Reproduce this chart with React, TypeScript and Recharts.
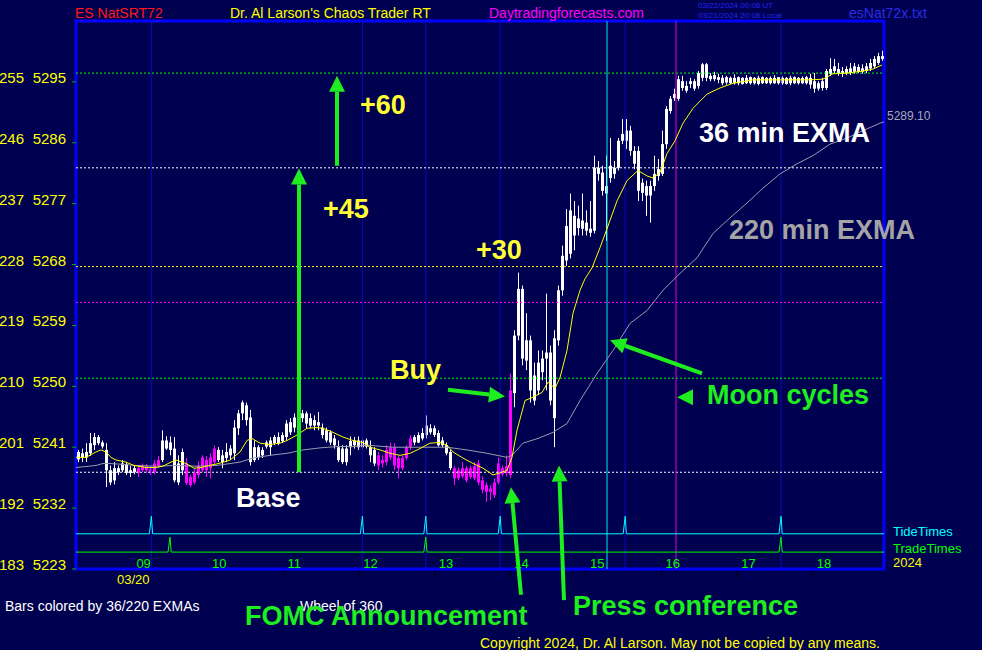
import React from 'react'
import { ComposedChart, Bar, Line, XAxis, YAxis, ReferenceLine, ReferenceArea } from 'recharts'

const FONT = "'Liberation Sans', Arial, sans-serif"
const BG = '#000050'
const GREEN = '#1EEE1E'

// one slot per bar, [open, high, low, close]
const bars0 = [
  [5239.2, 5240.6, 5238.8, 5240.3], [5239.5, 5240.8, 5238.8, 5240.1], [5239.5, 5241.6, 5238.8, 5240.3],
  [5240.1, 5243.1, 5239.7, 5241.6], [5241.3, 5243.1, 5240.6, 5242.5], [5241.6, 5242.8, 5241.3, 5242.5],
  [5241.1, 5242.0, 5240.8, 5241.7], [5240.6, 5241.6, 5235.1, 5237.6], [5237.6, 5238.3, 5235.4, 5235.8],
  [5236.1, 5238.8, 5235.5, 5237.9], [5237.3, 5238.3, 5236.9, 5237.9], [5237.6, 5239.1, 5237.3, 5238.6],
  [5238.5, 5238.8, 5236.9, 5237.2], [5237.2, 5238.2, 5236.6, 5237.6], [5237.3, 5238.3, 5237.0, 5237.9],
  [5237.9, 5238.3, 5236.6, 5237.2], [5238.3, 5238.6, 5237.3, 5237.6], [5237.6, 5238.5, 5237.2, 5238.2],
  [5237.75, 5238.2, 5236.9, 5237.2], [5237.3, 5239.1, 5237.0, 5238.6], [5238.2, 5239.7, 5237.9, 5239.1],
  [5239.1, 5243.5, 5238.8, 5242.0], [5242.0, 5242.6, 5240.6, 5240.8], [5240.6, 5242.6, 5239.8, 5241.7],
  [5240.8, 5242.5, 5235.8, 5236.1], [5235.8, 5239.8, 5235.4, 5238.6], [5237.6, 5240.8, 5236.9, 5240.3],
  [5238.6, 5239.4, 5235.4, 5235.7], [5236.6, 5236.9, 5235.1, 5235.4], [5235.8, 5237.9, 5235.5, 5237.2],
  [5236.9, 5238.9, 5236.4, 5238.3], [5237.6, 5239.8, 5237.3, 5239.5], [5239.1, 5239.7, 5236.6, 5237.6],
  [5237.9, 5240.1, 5236.4, 5239.5], [5238.8, 5241.3, 5238.5, 5240.8], [5239.1, 5241.0, 5238.8, 5240.6],
  [5239.8, 5240.6, 5237.9, 5238.8], [5239.4, 5241.6, 5238.8, 5240.3],
]
const bars1 = [
  [5239.8, 5241.3, 5239.1, 5240.8], [5240.1, 5245.0, 5239.1, 5243.9], [5243.8, 5246.5, 5242.8, 5246.0],
  [5246.0, 5247.9, 5245.0, 5247.6], [5247.2, 5247.6, 5244.2, 5245.0], [5245.4, 5246.5, 5238.3, 5238.8],
  [5239.1, 5242.0, 5238.8, 5241.0], [5241.0, 5241.3, 5239.1, 5239.5], [5239.8, 5241.0, 5239.4, 5240.6],
  [5241.1, 5242.0, 5240.8, 5241.7], [5241.0, 5242.5, 5239.8, 5242.0], [5241.6, 5242.8, 5241.3, 5242.5],
  [5242.5, 5243.2, 5241.3, 5241.6], [5241.9, 5243.2, 5241.6, 5242.8], [5242.5, 5245.0, 5242.0, 5244.5],
  [5243.2, 5245.3, 5242.8, 5244.7], [5243.9, 5246.0, 5243.2, 5245.4], [5245.0, 5246.9, 5244.2, 5246.2],
  [5246.0, 5246.5, 5244.7, 5245.3], [5244.5, 5246.3, 5243.8, 5246.0], [5245.3, 5246.0, 5243.8, 5244.2],
  [5244.2, 5245.7, 5243.5, 5245.0], [5244.7, 5246.2, 5243.5, 5244.2], [5243.9, 5244.5, 5242.3, 5242.8],
  [5243.5, 5243.9, 5241.7, 5242.0], [5241.7, 5243.5, 5241.3, 5243.2], [5242.3, 5242.8, 5240.8, 5241.3],
  [5241.0, 5242.0, 5238.8, 5239.1], [5238.8, 5241.3, 5238.5, 5240.8], [5240.8, 5241.3, 5238.3, 5238.8],
  [5241.0, 5242.6, 5239.8, 5241.9], [5241.3, 5242.5, 5240.8, 5242.0], [5242.0, 5242.6, 5240.6, 5241.0],
  [5241.0, 5242.5, 5240.7, 5242.0], [5242.0, 5242.3, 5240.8, 5241.1], [5241.0, 5242.0, 5238.8, 5239.8],
  [5240.6, 5241.0, 5238.2, 5238.6],
]
const bars2 = [
  [5239.8, 5240.3, 5237.6, 5238.3], [5239.1, 5239.8, 5238.0, 5238.6], [5240.6, 5241.3, 5238.3, 5238.8],
  [5241.0, 5241.7, 5239.1, 5239.5], [5241.0, 5241.6, 5237.6, 5238.3], [5239.4, 5239.8, 5236.4, 5237.9],
  [5237.9, 5239.8, 5237.6, 5239.4], [5241.0, 5241.3, 5239.1, 5239.4], [5242.3, 5242.8, 5240.6, 5241.0],
  [5241.7, 5242.8, 5241.3, 5242.5], [5241.7, 5243.2, 5241.6, 5242.8], [5242.3, 5243.8, 5242.0, 5243.1],
  [5242.8, 5245.7, 5242.3, 5244.2], [5243.8, 5244.4, 5242.9, 5243.2], [5242.8, 5244.2, 5242.5, 5243.8],
  [5243.1, 5243.5, 5241.1, 5241.3], [5242.0, 5242.5, 5241.0, 5241.3], [5241.3, 5241.7, 5239.8, 5240.1],
  [5240.3, 5240.6, 5237.6, 5237.9], [5237.9, 5238.3, 5235.4, 5236.4], [5237.6, 5238.0, 5236.1, 5236.4],
  [5236.7, 5238.8, 5236.4, 5237.9], [5237.9, 5238.2, 5235.8, 5236.1], [5236.6, 5238.3, 5236.3, 5237.9],
  [5238.2, 5238.8, 5236.1, 5236.4], [5238.6, 5239.1, 5235.4, 5235.8], [5236.1, 5236.7, 5234.2, 5234.7],
  [5235.4, 5235.8, 5232.9, 5234.4], [5234.4, 5235.4, 5233.2, 5234.9], [5235.8, 5236.4, 5233.5, 5233.9],
  [5235.8, 5239.5, 5235.5, 5238.6], [5237.0, 5238.3, 5236.7, 5237.9], [5237.2, 5239.8, 5236.7, 5238.2],
  [5236.9, 5251.9, 5236.4, 5249.4],
]
const bars3 = [
  [5249.0, 5258.3, 5246.9, 5257.5], [5257.5, 5266.8, 5256.8, 5264.4], [5264.4, 5264.9, 5253.1, 5254.1],
  [5253.8, 5260.8, 5252.4, 5256.8], [5256.8, 5257.5, 5247.6, 5249.4], [5247.9, 5253.5, 5247.2, 5251.6],
  [5249.4, 5255.3, 5248.7, 5253.5], [5254.1, 5255.3, 5250.9, 5252.1], [5254.1, 5263.7, 5249.4, 5255.0],
  [5255.0, 5256.0, 5247.2, 5247.9], [5245.3, 5258.3, 5241.0, 5257.1], [5256.8, 5264.9, 5256.0, 5264.2],
  [5264.2, 5270.8, 5263.4, 5269.3], [5268.6, 5276.2, 5267.8, 5273.7], [5269.6, 5278.5, 5268.9, 5276.0],
  [5275.2, 5277.4, 5270.1, 5272.3], [5273.4, 5276.7, 5272.3, 5274.8], [5274.5, 5278.5, 5272.3, 5273.3],
  [5273.0, 5276.0, 5272.3, 5274.2], [5273.3, 5277.4, 5272.1, 5272.7], [5273.0, 5284.1, 5272.6, 5282.3],
  [5282.3, 5283.3, 5280.4, 5281.4], [5281.6, 5282.6, 5278.2, 5278.9], [5278.5, 5284.1, 5271.5, 5279.6],
  [5280.8, 5286.7, 5280.1, 5282.6], [5282.3, 5283.3, 5280.7, 5281.4], [5282.3, 5286.7, 5281.9, 5286.3],
  [5286.3, 5289.5, 5285.8, 5287.3], [5287.8, 5289.5, 5285.1, 5286.3], [5287.8, 5288.5, 5284.1, 5284.8],
  [5284.8, 5285.5, 5282.1, 5282.9], [5284.8, 5285.5, 5277.4, 5278.9], [5278.6, 5280.7, 5277.4, 5280.1],
  [5279.6, 5280.4, 5275.2, 5278.2], [5278.2, 5280.4, 5274.2, 5279.6], [5279.6, 5284.1, 5278.9, 5281.4],
  [5281.1, 5283.6, 5280.4, 5282.1], [5281.4, 5287.8, 5281.1, 5285.8], [5285.8, 5291.4, 5285.1, 5291.0],
  [5290.7, 5292.9, 5290.3, 5292.5], [5292.6, 5294.0, 5292.2, 5293.2], [5292.5, 5295.9, 5292.2, 5295.4],
]
const bars4 = [
  [5295.1, 5295.9, 5293.7, 5294.1], [5294.4, 5295.1, 5293.4, 5293.7], [5294.7, 5295.6, 5294.1, 5295.1],
  [5295.1, 5295.4, 5293.7, 5294.0], [5294.4, 5296.6, 5294.0, 5296.3], [5295.6, 5297.8, 5295.1, 5297.6],
  [5297.6, 5297.8, 5295.1, 5295.6], [5295.9, 5296.3, 5295.1, 5295.4], [5295.4, 5296.5, 5295.1, 5296.0],
  [5295.7, 5296.2, 5294.8, 5295.3],
  [5294.8, 5296.0, 5294.5, 5295.6], [5294.9, 5295.9, 5294.6, 5295.7], [5294.8, 5295.8, 5294.7, 5295.6],
  [5294.8, 5296.1, 5294.6, 5295.6], [5294.8, 5295.8, 5294.5, 5295.7], [5294.7, 5295.7, 5294.6, 5295.6],
  [5294.8, 5296.0, 5294.7, 5295.6], [5294.8, 5295.8, 5294.6, 5295.7], [5294.8, 5295.7, 5294.6, 5295.6],
  [5294.7, 5295.9, 5294.5, 5295.6], [5294.8, 5295.8, 5294.7, 5295.7], [5294.8, 5295.7, 5294.7, 5295.6],
  [5294.8, 5295.8, 5294.6, 5295.6], [5294.8, 5296.0, 5294.7, 5295.6], [5294.8, 5295.7, 5294.6, 5295.7],
  [5294.8, 5295.8, 5294.6, 5295.6], [5294.7, 5295.7, 5294.6, 5295.6], [5294.8, 5295.9, 5294.5, 5295.6],
  [5294.8, 5295.8, 5294.7, 5295.7], [5294.8, 5295.7, 5294.6, 5295.6], [5294.8, 5295.8, 5294.7, 5295.6],
  [5294.8, 5295.9, 5294.6, 5295.7], [5294.6, 5296.2, 5294.0, 5295.6],
  [5294.0, 5296.3, 5293.4, 5295.1], [5294.8, 5295.1, 5293.7, 5294.0], [5294.1, 5295.6, 5293.7, 5295.1],
  [5294.1, 5296.9, 5293.8, 5296.6], [5296.2, 5298.5, 5295.9, 5296.9], [5296.6, 5298.4, 5296.2, 5297.3],
  [5296.9, 5297.8, 5295.9, 5296.2], [5296.2, 5297.2, 5295.7, 5296.6], [5296.3, 5297.3, 5296.0, 5296.9],
  [5296.3, 5297.8, 5296.0, 5297.0], [5296.5, 5297.8, 5296.2, 5297.3], [5297.2, 5297.6, 5296.3, 5296.5],
  [5296.5, 5297.6, 5296.2, 5297.0], [5296.6, 5297.8, 5296.3, 5297.3], [5297.0, 5298.4, 5296.6, 5297.8],
  [5297.3, 5298.8, 5297.0, 5298.4], [5297.8, 5299.3, 5297.5, 5298.8], [5298.4, 5299.6, 5298.1, 5298.8],
]

// slots where price was under both EXMAs
const pinkRanges = [[15, 20], [27, 34], [75, 83], [94, 108]]

// [slot, price]
const ema36 = [
  [-0.5, 5239.5], [2, 5239.5], [4.5, 5240.3], [5.75, 5240.6], [7, 5240.3], [8.25, 5239.5], [9.5, 5239.1],
  [12, 5238.8], [14, 5238.3], [17, 5238.0], [19.5, 5238.0], [21.25, 5238.2], [23.25, 5238.8], [24.5, 5239.1],
  [27, 5238.6], [29, 5237.9], [30.75, 5238.0], [32.75, 5238.3], [35.25, 5238.6], [38, 5239.1], [40.5, 5240.3],
  [42.25, 5242.0], [43.5, 5242.3], [45.5, 5241.6], [48, 5241.4], [50.5, 5241.6], [52.25, 5242.0], [54.75, 5242.8],
  [57.25, 5243.8], [59.75, 5243.9], [61.25, 5243.8], [63.75, 5243.2], [66.25, 5242.5], [68.75, 5242.0],
  [71.25, 5241.7], [73, 5241.0], [75.5, 5240.6], [78, 5240.1], [80.5, 5239.8], [83, 5240.1], [85.5, 5240.8],
  [88, 5241.6], [90.5, 5241.7], [92.25, 5241.3], [93.75, 5240.3], [96.25, 5239.4], [98.75, 5238.6],
  [101.25, 5237.9], [103.75, 5236.9], [105.5, 5237.2], [107.25, 5237.6], [108.5, 5239.5], [109.75, 5243.5],
  [111.75, 5247.9], [113.75, 5248.4], [116, 5249.1], [117.5, 5250.6], [119.25, 5249.7], [120.5, 5251.3],
  [122.25, 5255.3], [123.75, 5260.8], [125.5, 5264.2], [126.75, 5265.9], [128.5, 5267.5], [130.5, 5270.5],
  [132.25, 5273.3], [134.75, 5277.4], [137.25, 5280.4], [140, 5281.9], [142.25, 5281.1], [143.75, 5280.8],
  [145.5, 5281.6], [147.25, 5284.4], [149.25, 5286.3], [151.25, 5288.9], [153.75, 5291.1], [157.25, 5293.2],
  [160.5, 5294.1], [163.75, 5294.8], [168.75, 5295.3], [175.5, 5295.3], [183, 5295.3], [186.25, 5295.4],
  [188.75, 5296.2], [192.25, 5296.3], [196.25, 5296.6], [198.75, 5296.9], [201, 5297.5],
]
const ema220 = [
  [-0.5, 5238.0], [2.75, 5238.2], [4.5, 5238.3], [6.25, 5238.6], [7.75, 5238.6], [10.25, 5238.5], [14.5, 5238.3],
  [19.5, 5238.2], [24.5, 5238.3], [29.5, 5238.2], [34.5, 5238.3], [37, 5238.5], [40.5, 5238.8], [43.75, 5239.4],
  [48, 5239.8], [52.25, 5240.1], [56.25, 5240.6], [60.5, 5240.9], [64.75, 5241.1], [68.75, 5241.1],
  [72.25, 5241.3], [78.75, 5241.0], [87.25, 5241.0], [92.25, 5241.0], [97.25, 5240.6], [102.25, 5240.1],
  [107.25, 5239.5], [108.5, 5239.8], [111.25, 5241.6], [115, 5242.3], [118.75, 5243.2], [122.25, 5244.5],
  [125.5, 5247.9], [129.75, 5251.9], [133.75, 5255.3], [138, 5259.3], [142.25, 5261.2], [146.25, 5264.2],
  [150.5, 5266.7], [154.75, 5269.0], [158.75, 5272.6], [163, 5274.9], [167.25, 5277.1], [171.25, 5279.3],
  [175.5, 5281.4], [179.75, 5282.9], [183.75, 5284.1], [188, 5285.8], [192.25, 5286.7], [196.25, 5287.8],
  [200.5, 5288.9], [201.5, 5289.1],
]

const tideTimes = [18.35, 71.1, 86.95, 105.55, 136.8, 175.75]
const tradeTimes = [23, 86.95, 175.75]
const tideLevels = [5228.2, 5230.8] // base, peak
const tradeLevels = [5225.5, 5227.7]

const moonTimes = [132.25, 149.5]
const levelPrices = [5296.3, 5282.3, 5267.7, 5262.4, 5251.2, 5237.3]
const LEVEL_COLORS = ['#00FF00', '#FFFFFF', '#FFFF00', '#FF00FF', '#00FF00', '#FFFFFF']

const priceTicks = [5223, 5232, 5241, 5250, 5259, 5268, 5277, 5286, 5295]
const dayStarts = [13.6, 32.5, 51.4, 70.3, 89.2, 108.1, 127, 145.9, 164.8, 183.7]
const dayLabels = ['09', '10', '11', '12', '13', '14', '15', '16', '17', '18']

// [fromSlot, fromPrice, toSlot, toPrice]
const arrows = [
  [55.25, 5237.3, 55.25, 5282.2],
  [64.75, 5282.6, 64.75, 5295.9],
  [92.5, 5249.5, 106.75, 5248.5],
  [110.75, 5219.2, 108.25, 5235.1],
  [121.5, 5218.4, 120.25, 5238.3],
  [156, 5251.9, 133, 5256.8],
  [153.75, 5248.4, 149.75, 5248.4],
]

const X_DOMAIN = [-0.5, 201.5]
const Y_DOMAIN = [5223, 5304]

function spikes(times: number[], [base, peak]: number[]) {
  const pts = [{ x: X_DOMAIN[0], v: base }]
  times.forEach(t => {
    pts.push({ x: t - 0.5, v: base }, { x: t, v: peak }, { x: t + 0.3, v: base })
  })
  pts.push({ x: X_DOMAIN[1], v: base })
  return pts
}

// wick spans the bar's [low, high]; body placed inside it by proportion
function candleShape(props: any) {
  const { x, y, width, height, payload } = props
  if (!payload || !isFinite(y) || !isFinite(height)) return <g />
  const { o, h, l, c, pink } = payload
  const col = pink ? '#FF00FF' : '#FFFFFF'
  const top = Math.min(y, y + height)
  const hh = Math.abs(height)
  const k = hh / (h - l)
  const bTop = top + (h - Math.max(o, c)) * k
  const bBot = top + (h - Math.min(o, c)) * k
  const cx = Math.round(x + width / 2)
  return (
    <g>
      <line x1={cx + 0.5} x2={cx + 0.5} y1={top} y2={top + hh} stroke={col} strokeWidth={1} />
      <rect x={cx - 1} y={bTop} width={3} height={Math.max(1, bBot - bTop)} fill={col} />
    </g>
  )
}

function PriceTick(props: any) {
  const { x, y, payload } = props
  const v = payload.value
  return (
    <g fontFamily={FONT} fontSize={15} fill="#FFFF00">
      <text x={x - 42} y={y + 1} textAnchor="end">{v % 360}</text>
      <text x={x} y={y + 1} textAnchor="end">{v}</text>
    </g>
  )
}

function DayTick(props: any) {
  const { x, y, payload } = props
  const i = dayStarts.indexOf(payload.value)
  return (
    <g>
      <line x1={x} x2={x} y1={y + 2} y2={y + 9} stroke="#000" />
      <text x={x + 4} y={y - 6} fill="#00FF00" fontSize={13} fontFamily={FONT} dominantBaseline="central">
        {dayLabels[i]}
      </text>
    </g>
  )
}

function arrowShape(props: any) {
  const { x1, y1, x2, y2 } = props
  const dx = x2 - x1, dy = y2 - y1
  const len = Math.hypot(dx, dy) || 1
  const ux = dx / len, uy = dy / len
  const head = 16, half = 8
  const bx = x2 - ux * head, by = y2 - uy * head
  return (
    <g>
      {len > head && <line x1={x1} y1={y1} x2={bx} y2={by} stroke={GREEN} strokeWidth={4} />}
      <polygon
        points={`${x2},${y2} ${bx - uy * half},${by + ux * half} ${bx + uy * half},${by - ux * half}`}
        fill={GREEN}
      />
    </g>
  )
}

export default function App() {
  const candles = [...bars0, ...bars1, ...bars2, ...bars3, ...bars4].map((b, i) => ({
    x: i, o: b[0], h: b[1], l: b[2], c: b[3],
    pink: pinkRanges.some(([a, z]) => i >= a && i <= z),
  }))
  const ema36Data = ema36.map(([x, v]) => ({ x, v }))
  const ema220Data = ema220.map(([x, v]) => ({ x, v }))
  const tideData = spikes(tideTimes, tideLevels)
  const tradeData = spikes(tradeTimes, tradeLevels)

  const txt = { fontFamily: FONT }
  const big = { fontFamily: FONT, fontSize: 27, fontWeight: 700 }

  return (
    <div style={{ position: 'absolute', left: 0, top: 0, width: 982, height: 650, background: BG, overflow: 'hidden' }}>
      <ComposedChart width={982} height={650} data={candles} margin={{ top: 21, right: 98, bottom: 51, left: 0 }}>
        <XAxis
          xAxisId="main" dataKey="x" type="number" domain={X_DOMAIN} allowDataOverflow
          ticks={dayStarts} interval={0} tick={DayTick} tickLine={false} axisLine={false}
          tickSize={0} tickMargin={0} height={30}
        />
        <YAxis
          domain={Y_DOMAIN} allowDataOverflow ticks={priceTicks} interval={0} width={76}
          tick={PriceTick} tickLine={{ stroke: '#00B000' }} tickSize={4} tickMargin={6} axisLine={false}
        />

        {tideTimes.map(t => (
          <ReferenceLine key={'tv' + t} xAxisId="main" x={t} stroke="#0A0AC0" strokeWidth={1} />
        ))}
        {levelPrices.map((p, i) => (
          <ReferenceLine key={'lv' + p} xAxisId="main" y={p} stroke={LEVEL_COLORS[i]} strokeDasharray="2 2" />
        ))}
        <ReferenceLine xAxisId="main" x={moonTimes[0]} stroke="#00E8E8" strokeWidth={1} />
        <ReferenceLine xAxisId="main" x={moonTimes[1]} stroke="#E000E0" strokeWidth={1} />

        <Bar
          xAxisId="main" dataKey={(d: any) => [d.l, d.h]} barSize={3}
          shape={candleShape} isAnimationActive={false}
        />

        <Line xAxisId="main" data={ema220Data} dataKey="v" stroke="#9A9AAE" strokeWidth={1} dot={false} isAnimationActive={false} />
        <Line xAxisId="main" data={ema36Data} dataKey="v" stroke="#FFFF00" strokeWidth={1} dot={false} isAnimationActive={false} />
        <Line xAxisId="main" data={tideData} dataKey="v" stroke="#00FFFF" strokeWidth={1} dot={false} isAnimationActive={false} />
        <Line xAxisId="main" data={tradeData} dataKey="v" stroke="#00FF00" strokeWidth={1} dot={false} isAnimationActive={false} />

        <ReferenceArea
          xAxisId="main" x1={X_DOMAIN[0]} x2={X_DOMAIN[1]} y1={Y_DOMAIN[0]} y2={Y_DOMAIN[1]}
          fill="none" fillOpacity={0} stroke="#0000FF" strokeWidth={3} ifOverflow="visible"
        />
        {arrows.map((a, i) => (
          <ReferenceLine
            key={'ar' + i} xAxisId="main" ifOverflow="visible"
            segment={[{ x: a[0], y: a[1] }, { x: a[2], y: a[3] }]}
            shape={arrowShape}
          />
        ))}
      </ComposedChart>

      <svg width={982} height={650} style={{ position: 'absolute', left: 0, top: 0, pointerEvents: 'none' }}>
        <g style={txt} fontSize={14} dominantBaseline="central">
          <text x={75} y={13} fill="#FF1818">ES NatSRT72</text>
          <text x={230} y={13} fill="#FFFF00">Dr. Al Larson's Chaos Trader RT</text>
          <text x={489} y={13} fill="#FF00FF">Daytradingforecasts.com</text>
          <text x={698} y={5.5} fill="#2424F0" fontSize={8}>03/22/2024 00:08 UT</text>
          <text x={698} y={15} fill="#2424F0" fontSize={8}>03/21/2024 20:08 Local</text>
          <text x={849} y={12.5} fill="#2C2CE8">esNat72x.txt</text>

          <text x={887} y={116} fill="#A8A8B8" fontSize={12}>5289.10</text>
          <text x={893} y={531} fill="#00FFFF" fontSize={13}>TideTimes</text>
          <text x={893} y={548} fill="#00FF00" fontSize={13}>TradeTimes</text>
          <text x={893} y={562} fill="#FFFF00" fontSize={13}>2024</text>
          <text x={117} y={579} fill="#FFFF00" fontSize={13}>03/20</text>

          <text x={5} y={606} fill="#FFFFFF">Bars colored by 36/220 EXMAs</text>
          <text x={300} y={606} fill="#FFFFFF">Wheel of 360</text>
          <text x={480} y={643} fill="#FFFF00">Copyright 2024, Dr. Al Larson. May not be copied by any means.</text>
        </g>
        <g style={big} dominantBaseline="central">
          <text x={360} y={105} fill="#FFFF33">+60</text>
          <text x={323} y={209} fill="#FFFF33">+45</text>
          <text x={476} y={250} fill="#FFFF33">+30</text>
          <text x={390} y={370} fill="#FFFF33">Buy</text>
          <text x={236} y={498} fill="#FFFFFF">Base</text>
          <text x={699} y={133} fill="#FFFFFF">36 min EXMA</text>
          <text x={729} y={230} fill="#A4A4A4">220 min EXMA</text>
          <text x={707} y={395} fill={GREEN}>Moon cycles</text>
          <text x={245} y={616} fill={GREEN}>FOMC Announcement</text>
          <text x={573} y={606} fill={GREEN}>Press conference</text>
        </g>
      </svg>
    </div>
  )
}
